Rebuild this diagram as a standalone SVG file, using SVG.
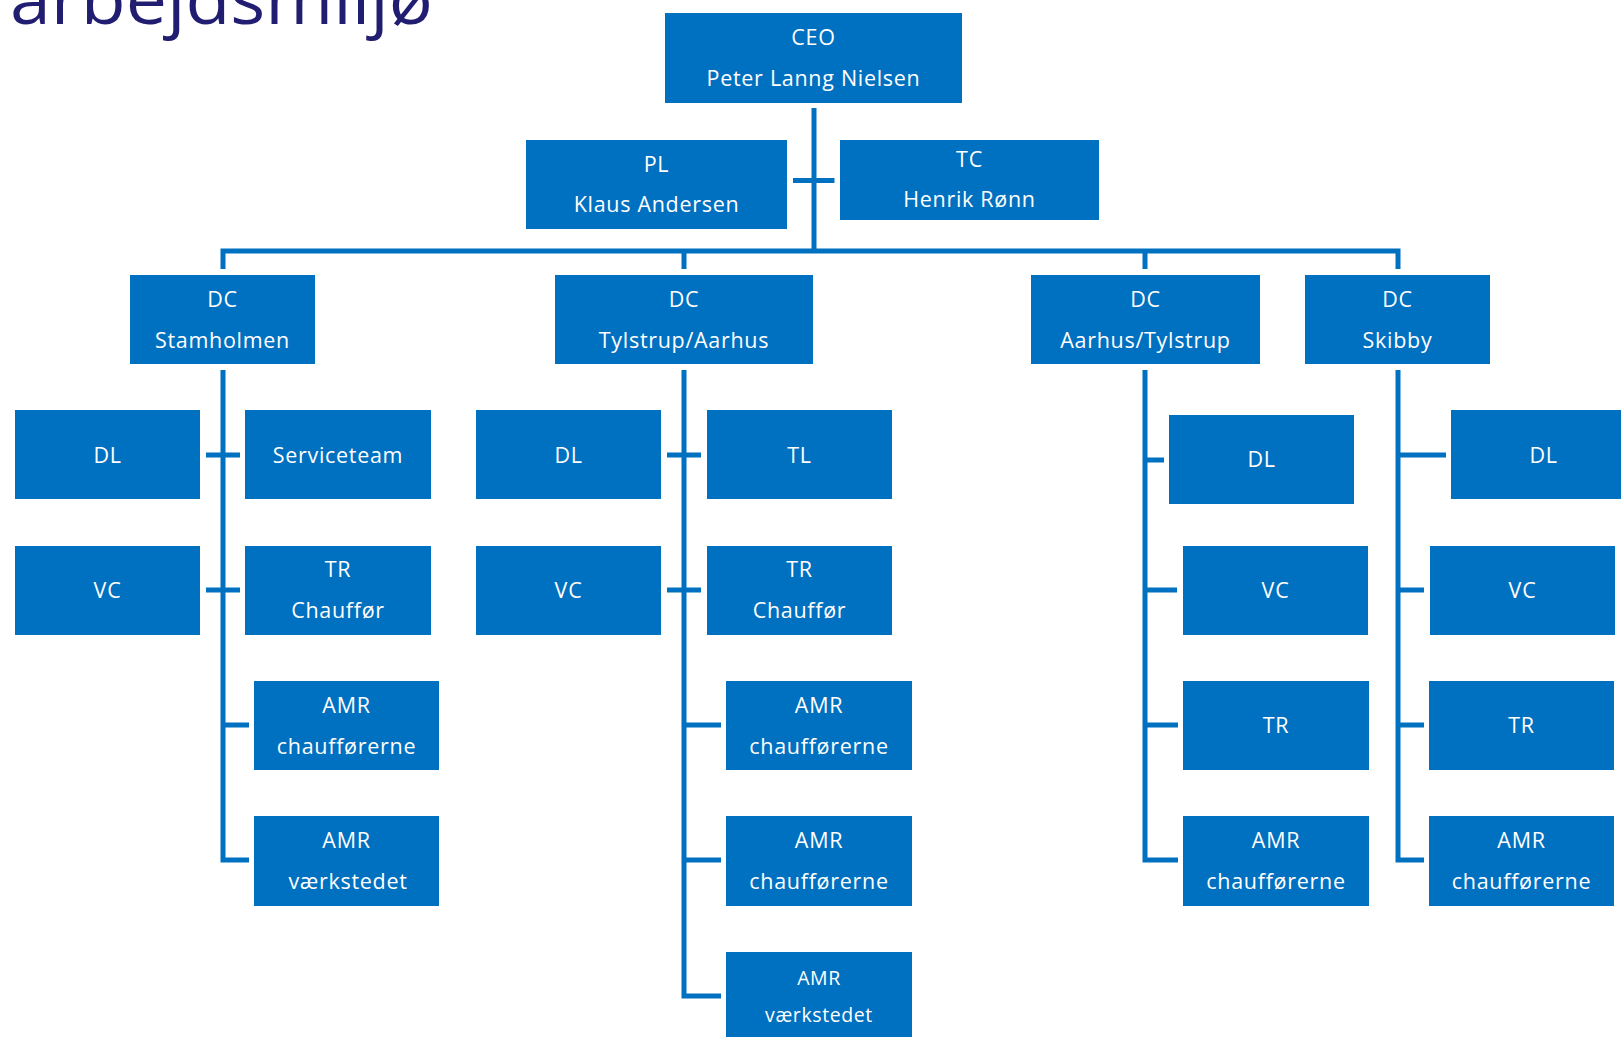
<svg xmlns="http://www.w3.org/2000/svg" width="1621" height="1037" viewBox="0 0 1621 1037">
<style>
.box{fill:#0070C0}
.t{font-family:"Open Sans","Noto Sans","Liberation Sans",sans-serif;font-size:21.5px;letter-spacing:0.7px;fill:#FFFFFF;text-anchor:middle}
.s{font-size:19.5px;letter-spacing:0.6px}
.c{fill:none;stroke:#0070C0;stroke-width:5;stroke-linejoin:miter;stroke-linecap:butt}
.title{font-family:"Open Sans","Noto Sans","Liberation Sans",sans-serif;font-size:70px;fill:#211D70}
</style>
<rect width="1621" height="1037" fill="#FFFFFF"/>
<text class="title" x="10" y="24" textLength="423" lengthAdjust="spacingAndGlyphs">arbejdsmiljø</text>
<g id="connectors">
<path class="c" d="M814,108 V251"/>
<path class="c" d="M793,180.5 H834.5"/>
<path class="c" d="M223,269 V251 H1398 V269"/>
<path class="c" d="M684,251 V269"/>
<path class="c" d="M1145,251 V269"/>
<path class="c" d="M223,370 V860 H249"/>
<path class="c" d="M206,455 H240 M206,590 H240 M223,725 H249"/>
<path class="c" d="M684,370 V996 H721"/>
<path class="c" d="M667,455 H701 M667,590 H701 M684,725 H721 M684,860 H721"/>
<path class="c" d="M1145,370 V860 H1178"/>
<path class="c" d="M1145,460 H1164 M1145,590 H1177 M1145,725 H1178"/>
<path class="c" d="M1398,370 V860 H1424"/>
<path class="c" d="M1398,455 H1446 M1398,590 H1424 M1398,725 H1424"/>
</g>
<g id="ceo"><rect class="box" x="665" y="13" width="297" height="90"/><text class="t" x="813.5" y="45">CEO</text><text class="t" x="813.5" y="86">Peter Lanng Nielsen</text></g>
<g id="pl"><rect class="box" x="526" y="140" width="261" height="89"/><text class="t" x="656.5" y="172">PL</text><text class="t" x="656.5" y="212">Klaus Andersen</text></g>
<g id="tc"><rect class="box" x="840" y="140" width="259" height="80"/><text class="t" x="969.5" y="167">TC</text><text class="t" x="969.5" y="207">Henrik Rønn</text></g>
<g id="dc-stamholmen"><rect class="box" x="130" y="275" width="185" height="89"/><text class="t" x="222.5" y="307">DC</text><text class="t" x="222.5" y="348">Stamholmen</text></g>
<g id="dc-tylstrup-aarhus"><rect class="box" x="555" y="275" width="258" height="89"/><text class="t" x="684" y="307">DC</text><text class="t" x="684" y="348">Tylstrup/Aarhus</text></g>
<g id="dc-aarhus-tylstrup"><rect class="box" x="1031" y="275" width="229" height="89"/><text class="t" x="1145.5" y="307">DC</text><text class="t" x="1145.5" y="348">Aarhus/Tylstrup</text></g>
<g id="dc-skibby"><rect class="box" x="1305" y="275" width="185" height="89"/><text class="t" x="1397.5" y="307">DC</text><text class="t" x="1397.5" y="348">Skibby</text></g>
<g id="dl-1"><rect class="box" x="15" y="410" width="185" height="89"/><text class="t" x="107.5" y="463">DL</text></g>
<g id="serviceteam"><rect class="box" x="245" y="410" width="186" height="89"/><text class="t" x="338" y="463">Serviceteam</text></g>
<g id="vc-1"><rect class="box" x="15" y="546" width="185" height="89"/><text class="t" x="107.5" y="598">VC</text></g>
<g id="tr-1"><rect class="box" x="245" y="546" width="186" height="89"/><text class="t" x="338" y="577">TR</text><text class="t" x="338" y="618">Chauffør</text></g>
<g id="amr-1a"><rect class="box" x="254" y="681" width="185" height="89"/><text class="t" x="346.5" y="713">AMR</text><text class="t" x="346.5" y="754">chaufførerne</text></g>
<g id="amr-1b"><rect class="box" x="254" y="816" width="185" height="90"/><text class="t" x="346.5" y="848">AMR</text><text class="t" x="348" y="889">værkstedet</text></g>
<g id="dl-2"><rect class="box" x="476" y="410" width="185" height="89"/><text class="t" x="568.5" y="463">DL</text></g>
<g id="tl-2"><rect class="box" x="707" y="410" width="185" height="89"/><text class="t" x="799.5" y="463">TL</text></g>
<g id="vc-2"><rect class="box" x="476" y="546" width="185" height="89"/><text class="t" x="568.5" y="598">VC</text></g>
<g id="tr-2"><rect class="box" x="707" y="546" width="185" height="89"/><text class="t" x="799.5" y="577">TR</text><text class="t" x="799.5" y="618">Chauffør</text></g>
<g id="amr-2a"><rect class="box" x="726" y="681" width="186" height="89"/><text class="t" x="819" y="713">AMR</text><text class="t" x="819" y="754">chaufførerne</text></g>
<g id="amr-2b"><rect class="box" x="726" y="816" width="186" height="90"/><text class="t" x="819" y="848">AMR</text><text class="t" x="819" y="889">chaufførerne</text></g>
<g id="amr-2c"><rect class="box" x="726" y="952" width="186" height="90"/><text class="t s" x="819" y="985">AMR</text><text class="t s" x="819" y="1022">værkstedet</text></g>
<g id="dl-3"><rect class="box" x="1169" y="415" width="185" height="89"/><text class="t" x="1261.5" y="467">DL</text></g>
<g id="vc-3"><rect class="box" x="1183" y="546" width="185" height="89"/><text class="t" x="1275.5" y="598">VC</text></g>
<g id="tr-3"><rect class="box" x="1183" y="681" width="186" height="89"/><text class="t" x="1276" y="733">TR</text></g>
<g id="amr-3"><rect class="box" x="1183" y="816" width="186" height="90"/><text class="t" x="1276" y="848">AMR</text><text class="t" x="1276" y="889">chaufførerne</text></g>
<g id="dl-4"><rect class="box" x="1451" y="410" width="185" height="89"/><text class="t" x="1543.5" y="463">DL</text></g>
<g id="vc-4"><rect class="box" x="1430" y="546" width="185" height="89"/><text class="t" x="1522.5" y="598">VC</text></g>
<g id="tr-4"><rect class="box" x="1429" y="681" width="185" height="89"/><text class="t" x="1521.5" y="733">TR</text></g>
<g id="amr-4"><rect class="box" x="1429" y="816" width="185" height="90"/><text class="t" x="1521.5" y="848">AMR</text><text class="t" x="1521.5" y="889">chaufførerne</text></g>
</svg>
